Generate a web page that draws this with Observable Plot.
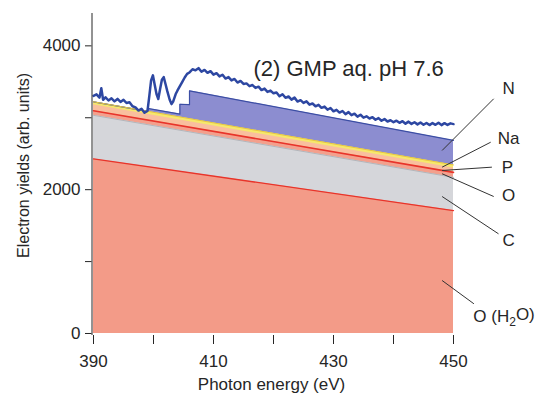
<!DOCTYPE html>
<html>
<head>
<meta charset="utf-8">
<script src="https://cdn.jsdelivr.net/npm/d3@7"></script>
<script src="https://cdn.jsdelivr.net/npm/@observablehq/plot@0.6"></script>
<style>
  html, body { margin: 0; padding: 0; background: #fff; }
  svg { display: block; }
</style>
</head>
<body>
<div id="chart"></div>
<script>
// ---------- data ----------
const xTicks = [390, 400, 410, 420, 430, 440, 450];
const xTickLabels = [390, 410, 430, 450];
const yTicks = [0, 1000, 2000, 3000, 4000];
const yTickLabels = [0, 2000, 4000];

// cumulative tops of the stacked element contributions
const layerEnergy = [390, 450];
const h2oTop = [2427, 1710];   // O (H2O)
const cTop   = [3034, 2171];   // + C
const oTop   = [3097, 2241];   // + O
const pTop   = [3180, 2302];   // + P
const naTop  = [3222, 2344];   // + Na
const nEnergy = [390, 399, 399, 404.4, 404.4, 406, 406, 450];
const nTop    = [3222, 3090, 3130, 3051, 3188, 3182, 3374, 2685]; // + N

// measured electron yield
const expEnergy = [
  390.0, 390.5, 391.0, 391.3, 391.6, 392.0, 392.5, 393.0, 393.5, 394.0, 394.5, 395.0, 395.5, 396.0, 396.5, 397.0, 397.5, 398.0, 398.5, 399.0,
  399.3, 399.6, 399.9, 400.2, 400.5, 400.8, 401.1, 401.4, 401.7, 402.0, 402.3, 402.7, 403.0, 403.3, 403.7, 404.0, 404.4, 404.8, 405.2, 405.6,
  406.0, 406.5, 407.0, 407.5, 408.0, 408.5, 409.0, 409.5, 410.0, 410.5, 411.0, 411.5, 412.0, 412.5, 413.0, 413.5, 414.0, 414.5, 415.0, 415.5,
  416.0, 416.5, 417.0, 417.5, 418.0, 418.5, 419.0, 419.5, 420.0, 420.5, 421.0, 421.5, 422.0, 422.5, 423.0, 423.5, 424.0, 424.5, 425.0, 425.5,
  426.0, 426.5, 427.0, 427.5, 428.0, 428.5, 429.0, 429.5, 430.0, 430.5, 431.0, 431.5, 432.0, 432.5, 433.0, 433.5, 434.0, 434.5, 435.0, 435.5,
  436.0, 436.5, 437.0, 437.5, 438.0, 438.5, 439.0, 439.5, 440.0, 440.5, 441.0, 441.5, 442.0, 442.5, 443.0, 443.5, 444.0, 444.5, 445.0, 445.5,
  446.0, 446.5, 447.0, 447.5, 448.0, 448.5, 449.0, 449.5, 450.0
];
const expYield = [
  3305, 3325, 3280, 3410, 3250, 3285, 3240, 3270, 3228, 3262, 3220, 3250, 3205, 3215, 3160, 3145, 3100, 3125, 3070, 3095,
  3300, 3520, 3590, 3460, 3330, 3260, 3400, 3530, 3565, 3470, 3370, 3250, 3190, 3230, 3330, 3380, 3440, 3500, 3560, 3610,
  3630, 3675, 3660, 3690, 3640, 3665, 3625, 3648, 3600, 3620, 3575, 3598, 3545, 3565, 3520, 3540, 3490, 3512, 3470, 3478,
  3440, 3455, 3415, 3432, 3385, 3405, 3360, 3378, 3340, 3352, 3300, 3328, 3278, 3296, 3252, 3280, 3226, 3245, 3206, 3228,
  3182, 3198, 3160, 3180, 3138, 3155, 3112, 3136, 3090, 3110, 3072, 3094, 3050, 3078, 3036, 3056, 3016, 3042, 3002, 3020,
  2990, 3008, 2972, 2995, 2958, 2982, 2948, 2965, 2938, 2960, 2930, 2952, 2918, 2946, 2915, 2938, 2908, 2934, 2902, 2928,
  2898, 2926, 2902, 2930, 2898, 2925, 2900, 2922, 2912
];

// labels of the contributions and their leader lines (data units)
const labelNames = ["N", "Na", "P", "O", "C"];
const labelEnergy = [459.2, 459.2, 459.0, 459.2, 459.2];
const labelYield = [3403, 2708, 2313, 1919, 1293];
const leaderFromE = [448.1, 448.1, 448.1, 448.1, 448.1, 448.1];
const leaderFromY = [2545, 2313, 2267, 2221, 1905, 737];
const leaderToE = [456.7, 456.2, 456.4, 456.7, 457.5, 453.4];
const leaderToY = [3264, 2660, 2313, 1905, 1386, 413];
const waterLabel = "O (H2O)";
const waterLabelE = 453.3;
const waterLabelY = 236;
const titleText = "(2) GMP aq. pH 7.6";

// ---------- build tables ----------
const rows = (xs, ys) => xs.map((x, i) => ({x, y: ys[i]}));
const labels = labelNames.map((name, i) => ({name, x: labelEnergy[i], y: labelYield[i]}));
const leaders = leaderFromE.map((x1, i) => ({x1, y1: leaderFromY[i], x2: leaderToE[i], y2: leaderToY[i]}));

const font = "'Liberation Sans', Arial, Helvetica, sans-serif";
const ink = "#262626";

const chart = Plot.plot({
  width: 536,
  height: 399,
  marginLeft: 93,
  marginRight: 83,
  marginTop: 13,
  marginBottom: 64,
  style: {fontFamily: font, fontSize: "17px", color: ink, background: "#fff", overflow: "visible"},
  x: {domain: [390, 450]},
  y: {domain: [-28, 4450]},
  marks: [
    // stacked areas, painted from the top-most cumulative layer down
    Plot.areaY(rows(nEnergy, nTop), {x: "x", y1: 0, y2: "y", fill: "#8c8dd0"}),
    Plot.areaY(rows(layerEnergy, naTop), {x: "x", y1: 0, y2: "y", fill: "#f6e86c"}),
    Plot.areaY(rows(layerEnergy, pTop), {x: "x", y1: 0, y2: "y", fill: "#f9bf9e"}),
    Plot.areaY(rows(layerEnergy, oTop), {x: "x", y1: 0, y2: "y", fill: "#f3a08d"}),
    Plot.areaY(rows(layerEnergy, cTop), {x: "x", y1: 0, y2: "y", fill: "#d5d6da"}),
    Plot.areaY(rows(layerEnergy, h2oTop), {x: "x", y1: 0, y2: "y", fill: "#f39b88"}),
    // boundary lines
    Plot.line(rows(nEnergy, nTop), {x: "x", y: "y", stroke: "#3c4ea4", strokeWidth: 1.2}),
    Plot.line(rows(layerEnergy, naTop), {x: "x", y: "y", stroke: "#e8c840", strokeWidth: 1}),
    Plot.line(rows(layerEnergy, oTop), {x: "x", y: "y", stroke: "#e8342a", strokeWidth: 1.6}),
    Plot.line(rows(layerEnergy, cTop), {x: "x", y: "y", stroke: "#b4b6bb", strokeWidth: 1}),
    Plot.line(rows(layerEnergy, h2oTop), {x: "x", y: "y", stroke: "#e8342a", strokeWidth: 1.3}),
    // measured spectrum
    Plot.line(rows(expEnergy, expYield), {x: "x", y: "y", stroke: "#2d47a2", strokeWidth: 2.5, strokeLinejoin: "round"}),
    // axes
    Plot.ruleX([390], {y1: -28, y2: 4450, dx: -1.5, stroke: ink, strokeWidth: 1}),
    Plot.axisY({ticks: yTicks, tickFormat: d => yTickLabels.includes(d) ? String(d) : "", tickSize: 6.5, tickPadding: 5, dx: -1.5, label: null, stroke: ink, fill: ink}),
    Plot.axisX({ticks: xTicks, tickFormat: d => xTickLabels.includes(d) ? String(d) : "", tickSize: 9, tickPadding: 10, label: null, stroke: ink, fill: ink}),
    Plot.text(["Photon energy (eV)"], {frameAnchor: "bottom", dx: -2, dy: 54, fontSize: 17, fill: ink}),
    Plot.text(["Electron yields (arb. units)"], {frameAnchor: "left", textAnchor: "middle", dx: -70, dy: -9, rotate: -90, fontSize: 16, fill: ink}),
    // title
    Plot.text([titleText], {frameAnchor: "top-left", dx: 160, dy: 46.5, textAnchor: "start", fontSize: 22, fill: ink}),
    // leader lines and labels
    Plot.link(leaders, {x1: "x1", y1: "y1", x2: "x2", y2: "y2", stroke: "#333", strokeWidth: 1}),
    Plot.text(labels, {x: "x", y: "y", text: "name", fontSize: 17, fill: ink}),
    Plot.text([waterLabel], {x: () => waterLabelE, y: () => waterLabelY, textAnchor: "start", fontSize: 17, fill: ink})
  ]
});

// subscript in O (H2O)
d3.select(chart).selectAll("text").filter(function() { return this.textContent === "O (H2O)"; }).each(function() {
  const t = d3.select(this);
  t.text(null);
  t.append("tspan").text("O (H");
  t.append("tspan").attr("font-size", 12).attr("dy", "0.3em").text("2");
  t.append("tspan").attr("dy", "-0.3em").text("O)");
});

document.getElementById("chart").appendChild(chart);
</script>
</body>
</html>
